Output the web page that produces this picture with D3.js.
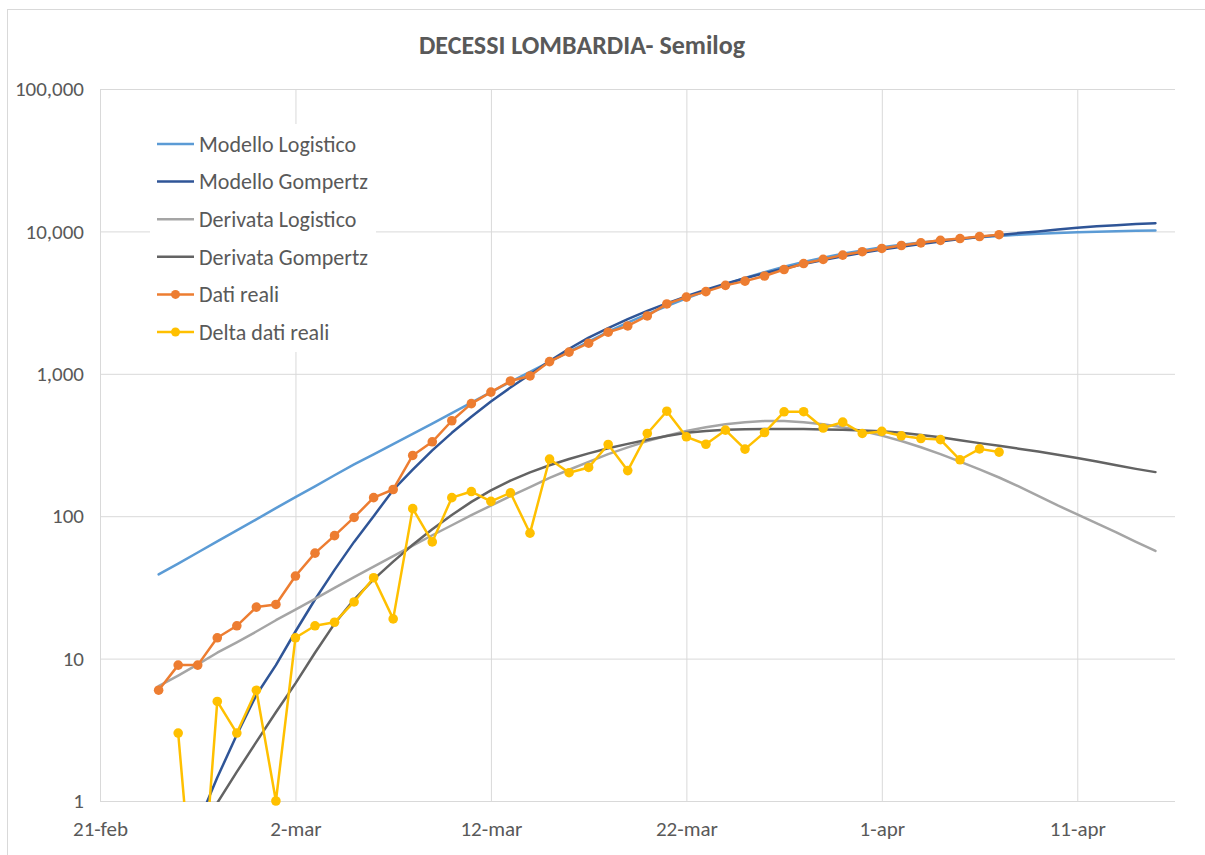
<!DOCTYPE html>
<html>
<head>
<meta charset="utf-8">
<script src="https://cdn.jsdelivr.net/npm/d3@7"></script>
<style>
  body { margin: 0; background: #fff; }
  svg { display: block; }
  text { font-family: Carlito, Calibri, Lato, sans-serif; fill: #595959; }
</style>
</head>
<body>
<svg id="chart"></svg>
<script>
// ---- data ----
const firstDay = '2020-02-24';
const axisStart = '2020-02-21';
const axisEnd = '2020-04-16';
const tickDates = ['2020-02-21', '2020-03-02', '2020-03-12', '2020-03-22', '2020-04-01', '2020-04-11'];
const yTicks = [1, 10, 100, 1000, 10000, 100000];

const modelloLogistico = [39, 46.5, 55.6, 66.6, 79.6, 95, 114, 136, 162, 194, 231, 272, 321, 378, 447, 530,
  628, 743, 877, 1032, 1211, 1430, 1682, 1981, 2285, 2622, 2989, 3386, 3808, 4250, 4707, 5175, 5640, 6096,
  6540, 6961, 7358, 7726, 8063, 8368, 8640, 8882, 9094, 9280, 9470, 9620, 9750, 9860, 9950, 10030, 10090, 10140];

const modelloGompertz = [0.127, 0.306, 0.689, 1.46, 2.92, 5.55, 9, 15.5, 26, 42, 66, 100, 153, 212, 290, 385,
  500, 640, 800, 990, 1230, 1500, 1794, 2096, 2421, 2765, 3124, 3501, 3889, 4285, 4684, 5089, 5495, 5898,
  6297, 6689, 7074, 7449, 7815, 8166, 8506, 8834, 9148, 9447, 9731, 10003, 10300, 10600, 10850, 11050, 11250, 11420];

const derivataLogistico = [6.4, 7.6, 9.1, 11, 13, 15.5, 18.6, 22.1, 26.3, 31.4, 37.3, 44.3, 52.5, 62.2, 73.5,
  86.4, 101.6, 118.8, 138.6, 160.3, 186, 212, 241, 273, 304, 337, 367, 397, 422, 442, 457, 466, 466, 457,
  442, 421, 397, 368, 337, 305, 273, 242, 213, 187, 162, 139, 119, 103, 89, 77, 66, 57];

const derivataGompertz = [0.15, 0.3, 0.55, 0.97, 1.6, 2.6, 4.2, 6.7, 11, 17.6, 26, 36, 48, 63, 81, 102, 126,
  152, 178, 203, 228, 252, 276, 300, 322, 344, 366, 385, 397, 404, 408, 410, 410, 409, 407, 404, 400, 395,
  385, 372, 358, 342, 326, 312, 298, 285, 270, 256, 242, 228, 215, 204];

const datiReali = [6, 9, 9, 14, 17, 23, 24, 38, 55, 73, 98, 135, 154, 267, 333, 468, 617, 744, 890, 966, 1218,
  1420, 1640, 1959, 2168, 2549, 3095, 3456, 3776, 4178, 4474, 4861, 5402, 5944, 6360, 6818, 7199, 7593,
  7960, 8311, 8656, 8905, 9202, 9484];

// delta starts one day after the first real value
const deltaDatiReali = [3, 0, 5, 3, 6, 1, 14, 17, 18, 25, 37, 19, 113, 66, 135, 149, 127, 146, 76, 252, 202,
  220, 319, 209, 381, 546, 361, 320, 402, 296, 387, 541, 542, 416, 458, 381, 394, 367, 351, 345, 249, 297, 282];

// ---- setup ----
const width = 1205;
const height = 855;
const plot = { left: 100, right: 1175, top: 89, bottom: 801 };

const svg = d3.select('#chart')
  .attr('width', width)
  .attr('height', height);

const parse = d3.timeParse('%Y-%m-%d');
const itLocale = d3.timeFormatLocale({
  dateTime: '%A %e %B %Y, %X', date: '%d/%m/%Y', time: '%H:%M:%S', periods: ['AM', 'PM'],
  days: ['domenica', 'lunedì', 'martedì', 'mercoledì', 'giovedì', 'venerdì', 'sabato'],
  shortDays: ['dom', 'lun', 'mar', 'mer', 'gio', 'ven', 'sab'],
  months: ['gennaio', 'febbraio', 'marzo', 'aprile', 'maggio', 'giugno', 'luglio', 'agosto', 'settembre', 'ottobre', 'novembre', 'dicembre'],
  shortMonths: ['gen', 'feb', 'mar', 'apr', 'mag', 'giu', 'lug', 'ago', 'set', 'ott', 'nov', 'dic']
});
const fmtDay = itLocale.format('%-d-%b');

const x = d3.scaleTime()
  .domain([parse(axisStart), parse(axisEnd)])
  .range([plot.left, plot.right]);

const y = d3.scaleLog()
  .domain([1, 100000])
  .range([plot.bottom, plot.top]);

const day0 = parse(firstDay);
const toPoints = (arr, offset = 0) => arr.map((v, i) => ({ date: d3.timeDay.offset(day0, i + offset), value: v }));

// excel pushes zeros off the bottom of a log axis
const LOG_FLOOR = 0.08;

const series = [
  { name: 'Modello Logistico', points: toPoints(modelloLogistico), color: '#5B9BD5', marker: false },
  { name: 'Modello Gompertz', points: toPoints(modelloGompertz), color: '#2F5597', marker: false },
  { name: 'Derivata Logistico', points: toPoints(derivataLogistico), color: '#A5A5A5', marker: false },
  { name: 'Derivata Gompertz', points: toPoints(derivataGompertz), color: '#636363', marker: false },
  { name: 'Dati reali', points: toPoints(datiReali), color: '#ED7D31', marker: true },
  { name: 'Delta dati reali', points: toPoints(deltaDatiReali, 1), color: '#FFC000', marker: true }
];

// outer chart border
svg.append('rect')
  .attr('x', 7.5).attr('y', 9.5)
  .attr('width', 1240).attr('height', 900)
  .attr('fill', 'none')
  .attr('stroke', '#D9D9D9');

// title
svg.append('text')
  .attr('x', 582).attr('y', 54)
  .attr('text-anchor', 'middle')
  .style('font-size', '26px')
  .style('font-weight', 'bold')
  .text('DECESSI LOMBARDIA- Semilog');

// x gridlines + labels
const xAxis = svg.append('g')
  .attr('transform', `translate(0, ${plot.bottom})`)
  .call(d3.axisBottom(x)
    .tickValues(tickDates.map(parse))
    .tickFormat(fmtDay)
    .tickSize(-(plot.bottom - plot.top))
    .tickPadding(20));
xAxis.select('.domain').remove();
xAxis.selectAll('line').attr('stroke', '#D9D9D9');
xAxis.selectAll('text').style('font-size', '21px').attr('fill', '#595959');

// y gridlines + labels
const yAxis = svg.append('g')
  .attr('transform', `translate(${plot.left}, 0)`)
  .call(d3.axisLeft(y)
    .tickValues(yTicks)
    .tickFormat(d3.format(','))
    .tickSize(-(plot.right - plot.left))
    .tickPadding(16));
yAxis.select('.domain').remove();
yAxis.selectAll('line').attr('stroke', '#D9D9D9');
yAxis.selectAll('text').style('font-size', '21px').attr('fill', '#595959');

// clip lines to the plot area
svg.append('clipPath').attr('id', 'plot-clip')
  .append('rect')
  .attr('x', plot.left).attr('y', plot.top)
  .attr('width', plot.right - plot.left)
  .attr('height', plot.bottom - plot.top + 1);

const line = d3.line()
  .x(d => x(d.date))
  .y(d => y(Math.max(d.value, LOG_FLOOR)));

const lines = svg.append('g').attr('clip-path', 'url(#plot-clip)');

series.forEach(s => {
  lines.append('path')
    .datum(s.points)
    .attr('d', line)
    .attr('fill', 'none')
    .attr('stroke', s.color)
    .attr('stroke-width', 2.5)
    .attr('stroke-linejoin', 'round')
    .attr('stroke-linecap', 'round');
});

// markers (drawn unclipped, only for values on the axis range)
series.filter(s => s.marker).forEach(s => {
  svg.append('g').selectAll('circle')
    .data(s.points.filter(d => d.value >= 1))
    .enter()
    .append('circle')
    .attr('cx', d => x(d.date))
    .attr('cy', d => y(d.value))
    .attr('r', 4.8)
    .attr('fill', s.color);
});

// legend
const legend = svg.append('g');
legend.append('rect')
  .attr('x', 150).attr('y', 124)
  .attr('width', 226).attr('height', 228)
  .attr('fill', '#fff');

const legendRow = d3.scalePoint()
  .domain(series.map(s => s.name))
  .range([144, 332]);

series.forEach(s => {
  const g = legend.append('g').attr('transform', `translate(0, ${legendRow(s.name)})`);
  g.append('line')
    .attr('x1', 157).attr('x2', 194)
    .attr('stroke', s.color)
    .attr('stroke-width', 2.5);
  if (s.marker) {
    g.append('circle').attr('cx', 175.5).attr('r', 4.5).attr('fill', s.color);
  }
  g.append('text')
    .attr('x', 199)
    .attr('dy', '0.35em')
    .style('font-size', '22px')
    .text(s.name);
});
</script>
</body>
</html>
